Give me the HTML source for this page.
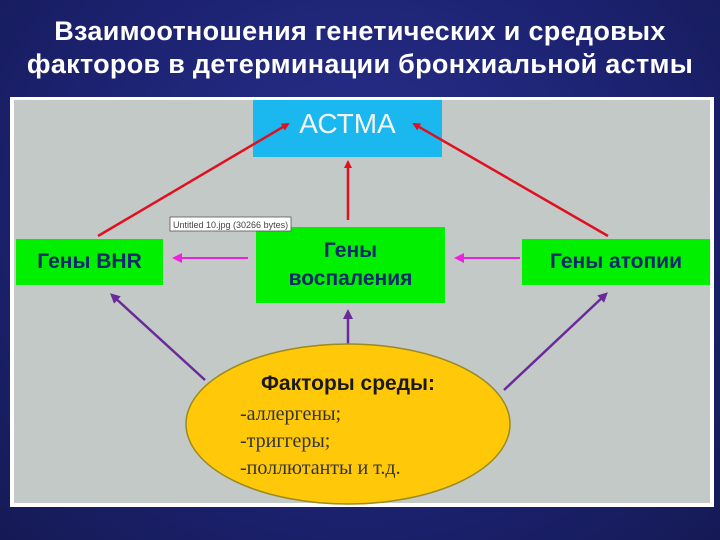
<!DOCTYPE html>
<html><head><meta charset="utf-8"><style>
body{margin:0;width:720px;height:540px;overflow:hidden;background:radial-gradient(ellipse at 50% 40%,#2a3190 0%,#1c2270 60%,#151a55 100%);font-family:"Liberation Sans","DejaVu Sans",sans-serif;position:relative}
.t{position:absolute;left:0;width:720px;text-align:center;color:#fff;font-weight:bold;font-size:27px;line-height:33px;top:15px;font-family:"Liberation Sans",sans-serif;letter-spacing:0.3px;white-space:nowrap}
.f{position:absolute;left:10px;top:97px;width:704px;height:410px;background:#fff}
.g{position:absolute;left:14px;top:100px;width:696px;height:403px;background:#c3c9c6}
.b{position:absolute;background:#00f000;color:#0d2a6a;font-weight:bold;font-size:21px;display:flex;align-items:center;justify-content:center;text-align:center;line-height:28px;font-family:"Liberation Sans",sans-serif}
</style></head><body>
<div class="t">Взаимоотношения генетических и средовых<br>факторов в детерминации бронхиальной астмы</div>
<div class="f"></div><div class="g"></div>
<div class="b" style="left:253px;top:100px;width:189px;height:57px;background:#1ab8ee;color:#f4f4f4;font-size:28px;font-weight:normal;align-items:flex-start;line-height:48px">АСТМА</div>
<div class="b" style="left:16px;top:239px;width:147px;height:46px">Гены BHR</div>
<div class="b" style="left:256px;top:227px;width:189px;height:76px">Гены<br>воспаления</div>
<div class="b" style="left:522px;top:239px;width:188px;height:46px">Гены атопии</div>
<svg style="position:absolute;left:0;top:0" width="720" height="540">
<defs>
<marker id="r" markerWidth="8" markerHeight="8" refX="6" refY="4" orient="auto" markerUnits="userSpaceOnUse"><path d="M0,0L8,4L0,8z" fill="#e01020"/></marker>
<marker id="m" markerWidth="10" markerHeight="10" refX="6" refY="5" orient="auto" markerUnits="userSpaceOnUse"><path d="M0,0L10,5L0,10z" fill="#f020e0"/></marker>
<marker id="p" markerWidth="10" markerHeight="10" refX="6" refY="5" orient="auto" markerUnits="userSpaceOnUse"><path d="M0,0L10,5L0,10z" fill="#6a2a9a"/></marker>
</defs>
<g stroke="#e01020" stroke-width="2.5" fill="none">
<line x1="98" y1="236" x2="288" y2="124" marker-end="url(#r)"/>
<line x1="348" y1="220" x2="348" y2="162" marker-end="url(#r)"/>
<line x1="608" y1="236" x2="414" y2="124" marker-end="url(#r)"/>
</g>
<g stroke="#f020e0" stroke-width="2" fill="none">
<line x1="248" y1="258" x2="176" y2="258" marker-end="url(#m)"/>
<line x1="520" y1="258" x2="458" y2="258" marker-end="url(#m)"/>
</g>
<g stroke="#6a2a9a" stroke-width="2.5" fill="none">
<line x1="205" y1="380" x2="113" y2="296" marker-end="url(#p)"/>
<line x1="348" y1="355" x2="348" y2="313" marker-end="url(#p)"/>
<line x1="504" y1="390" x2="605" y2="295" marker-end="url(#p)"/>
</g>
<ellipse cx="348" cy="424" rx="162" ry="80" fill="#ffc808" stroke="#9a8a20" stroke-width="1.5"/>
<text x="348" y="390" text-anchor="middle" font-family="Liberation Sans,sans-serif" font-weight="bold" font-size="21" fill="#1a1a1a">Факторы среды:</text>
<text x="240" y="420" font-family="Liberation Serif,serif" font-size="20" fill="#333">-аллергены;</text>
<text x="240" y="447" font-family="Liberation Serif,serif" font-size="20" fill="#333">-триггеры;</text>
<text x="240" y="474" font-family="Liberation Serif,serif" font-size="20" fill="#333">-поллютанты и т.д.</text>
<rect x="170" y="217" width="121" height="14" fill="#fff" stroke="#555" stroke-width="0.8"/>
<text x="173" y="228" font-family="Liberation Sans,sans-serif" font-size="9" fill="#444">Untitled 10.jpg (30266 bytes)</text>
</svg>
</body></html>
